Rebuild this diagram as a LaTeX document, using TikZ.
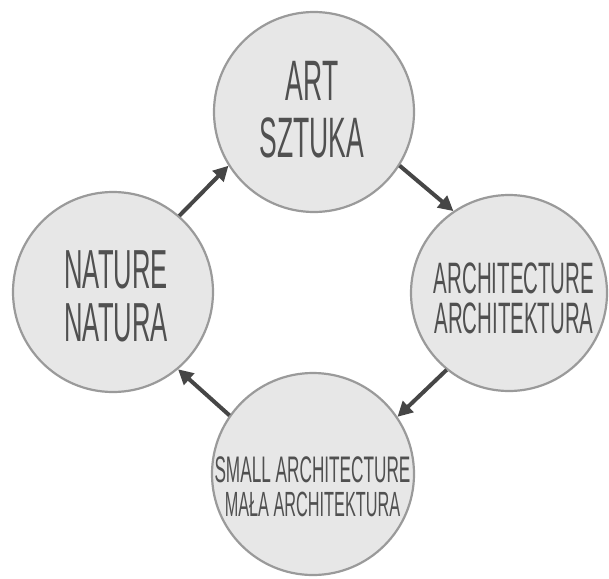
\documentclass[tikz,border=0pt]{standalone}
\usepackage{fontspec}
\usetikzlibrary{arrows.meta}
\newfontfamily\condfont[FakeStretch=0.465]{Liberation Sans}
\definecolor{bubblefill}{HTML}{E7E7E7}
\definecolor{bubbleline}{HTML}{9A9A9A}
\definecolor{labelgray}{HTML}{505050}
\definecolor{arrowgray}{HTML}{464646}
\tikzset{
  bubble/.style={circle, draw=bubbleline, line width=2.2pt, fill=bubblefill,
                 inner sep=0pt, outer sep=0pt},
  bubbletext/.style={align=center, text=labelgray, inner sep=0pt},
  flow/.style={draw=arrowgray, line width=4pt,
               -{Triangle[length=15pt,width=15pt]}, shorten >=1pt, shorten <=1pt}
}
\begin{document}
\begin{tikzpicture}[x=1pt, y=-1pt]
  \useasboundingbox (0,0) rectangle (609,578);
  % the four circles of the cycle
  \node[bubble, minimum size=200pt] (art)    at (314,112) {};
  \node[bubble, minimum size=196pt] (arch)   at (509,293) {};
  \node[bubble, minimum size=202pt] (small)  at (313,474) {};
  \node[bubble, minimum size=200pt] (nature) at (113,292) {};
  % their labels
  \node[bubbletext, font=\condfont\fontsize{57}{57}\selectfont] (artT) at (312,110)
    {ART\\SZTUKA};
  \node[bubbletext, font=\condfont\fontsize{44}{40}\selectfont] (archT) at (514,298.5)
    {ARCHITECTURE\\ARCHITEKTURA};
  \node[bubbletext, font=\condfont\fontsize{37}{34}\selectfont] (smallT) at (312.5,487)
    {SMALL ARCHITECTURE\\\fontsize{35}{34}\selectfont MAŁA ARCHITEKTURA};
  \node[bubbletext, font=\condfont\fontsize{55}{53}\selectfont] (natureT) at (116,296)
    {NATURE\\NATURA};
  % connectors around the cycle
  \draw[flow] (nature.49) -- (art.212);
  \draw[flow] (art.-32)   -- (arch.124);
  \draw[flow] (arch.231)  -- (small.34);
  \draw[flow] (small.145) -- (nature.-50);
\end{tikzpicture}
\end{document}
